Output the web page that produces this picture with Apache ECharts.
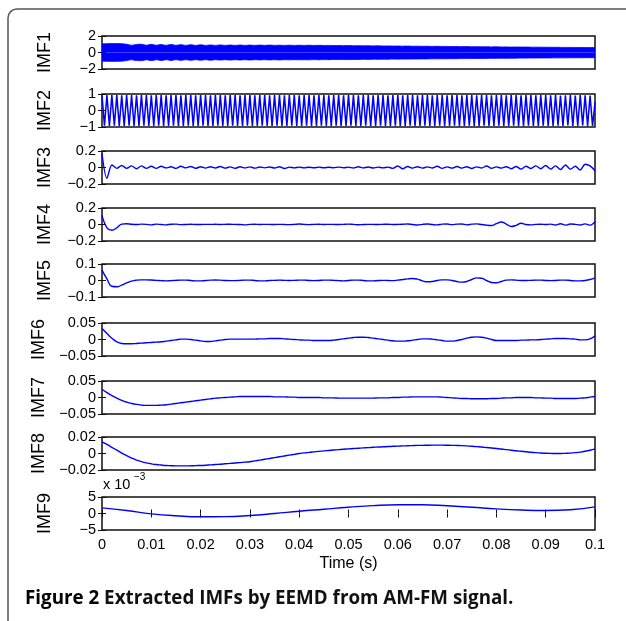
<!DOCTYPE html>
<html><head><meta charset="utf-8">
<script src="https://cdn.jsdelivr.net/npm/echarts@6/dist/echarts.min.js"></script>
<style>html,body{margin:0;padding:0;background:#fff}#c{width:626px;height:621px}</style>
</head><body><div id="c"></div>
<script>
// ---------- data ----------
const imfNames = ['IMF1','IMF2','IMF3','IMF4','IMF5','IMF6','IMF7','IMF8','IMF9'];
const xTickLabels = ['0','0.01','0.02','0.03','0.04','0.05','0.06','0.07','0.08','0.09','0.1'];
const yMin = [-2,-1,-0.2,-0.2,-0.1,-0.05,-0.05,-0.02,-5];
const yMax = [2,1,0.2,0.2,0.1,0.05,0.05,0.02,5];
const yStep = [2,1,0.2,0.2,0.1,0.05,0.05,0.02,5];
const xLabel = 'Time (s)';
const imf9Scale = 'x 10';
const imf9Exp = '\u22123';
const captionBold = 'Figure 2';
const captionRest = ' Extracted IMFs by EEMD from AM-FM signal.';

// sampling steps (s)
const dtImf1 = 0.001, dtImf2 = 0.0005, dtImf = 0.001, dtImf9 = 0.005;

// IMF1 drawn as its envelope band (upper/lower)
const imf1Upper = [
1.05,1.07,1.08,1.08,1.06,1.0,0.88,0.98,1.0,0.88,
0.99,0.88,0.97,0.87,0.96,0.87,0.95,0.86,0.94,0.86,
0.93,0.86,0.92,0.86,0.92,0.86,0.91,0.86,0.91,0.86,
0.9,0.86,0.9,0.86,0.9,0.86,0.89,0.86,0.89,0.86,
0.88,0.86,0.88,0.85,0.87,0.85,0.86,0.84,0.85,0.83,
0.84,0.82,0.83,0.81,0.82,0.8,0.81,0.79,0.8,0.78,
0.79,
0.77,0.78,0.76,0.77,0.75,0.76,0.74,0.75,0.73,0.74,
0.72,0.73,0.71,0.72,0.7,0.71,0.69,0.7,0.68,0.69,
0.67,0.68,0.66,0.67,0.66,0.66,0.65,0.65,0.64,0.64,
0.63,0.63,0.62,0.62,0.62,0.61,0.61,0.6,0.6,0.6];
const imf1Lower = [
-1.05,-1.07,-1.08,-1.07,-1.05,-0.98,-0.88,-0.98,-0.99,-0.88,
-0.98,-0.88,-0.97,-0.87,-0.96,-0.87,-0.95,-0.87,-0.94,-0.87,
-0.93,-0.87,-0.93,-0.87,-0.92,-0.87,-0.92,-0.87,-0.91,-0.87,
-0.91,-0.87,-0.9,-0.87,-0.9,-0.87,-0.9,-0.87,-0.89,-0.87,
-0.89,-0.87,-0.89,-0.86,-0.88,-0.86,-0.87,-0.85,-0.86,-0.85,
-0.86,
-0.84,-0.85,-0.83,-0.84,-0.82,-0.83,-0.81,-0.82,-0.8,-0.81,
-0.8,-0.8,-0.79,-0.79,-0.78,-0.78,-0.77,-0.77,-0.76,-0.76,
-0.75,-0.75,-0.74,-0.74,-0.73,-0.73,-0.72,-0.72,-0.71,-0.71,
-0.7,-0.7,-0.69,-0.69,-0.68,-0.68,-0.67,-0.67,-0.66,-0.66,
-0.66,-0.65,-0.65,-0.65,-0.64,-0.64,-0.64,-0.63,-0.63,-0.63];

// IMF2: extrema of the oscillation
const imf2 = [
0.92,-0.92,0.93,-0.93,0.93,-0.92,0.93,-0.93,0.92,-0.93,
0.93,-0.92,0.93,-0.93,0.92,-0.93,0.93,-0.92,0.93,-0.93,
0.92,-0.93,0.93,-0.92,0.93,-0.93,0.92,-0.93,0.93,-0.92,
0.93,-0.93,0.92,-0.93,0.93,-0.92,0.93,-0.93,0.92,-0.93,
0.93,-0.92,0.93,-0.93,0.92,-0.93,0.93,-0.92,0.93,-0.93,
0.92,-0.93,0.93,-0.92,0.93,-0.93,0.92,-0.93,0.93,-0.92,
0.93,-0.93,0.92,-0.93,0.93,-0.92,0.93,-0.93,0.92,-0.93,
0.93,-0.92,0.93,-0.93,0.92,-0.93,0.93,-0.92,0.93,-0.93,
0.92,-0.93,0.93,-0.92,0.93,-0.93,0.92,-0.93,0.93,-0.92,
0.93,-0.93,0.92,-0.93,0.93,-0.92,0.93,-0.93,0.92,-0.93,
0.93,-0.92,0.93,-0.93,0.92,-0.93,0.93,-0.92,0.93,-0.93,
0.92,-0.93,0.93,-0.92,0.93,-0.93,0.92,-0.93,0.93,-0.92,
0.93,-0.93,0.92,-0.93,0.93,-0.92,0.93,-0.93,0.92,-0.93,
0.93,-0.92,0.93,-0.93,0.92,-0.93,0.93,-0.92,0.93,-0.93,
0.92,-0.93,0.93,-0.92,0.93,-0.93,0.92,-0.93,0.93,-0.92,
0.93,-0.93,0.92,-0.93,0.93,-0.92,0.93,-0.93,0.92,-0.93,
0.93,-0.92,0.93,-0.93,0.92,-0.93,0.93,-0.92,0.93,-0.93,
0.92,-0.93,0.93,-0.92,0.93,-0.93,0.92,-0.93,0.93,-0.92,
0.93,-0.93,0.92,-0.93,0.93,-0.92,0.9,-0.93,0.92,-0.9,
0.93,-0.93,0.9,-0.93,0.93,-0.9,0.92,-0.93,0.9,-0.93,
0.5];

const imf3 = [
0.17,-0.13,0.03,-0.01,0.025,-0.01,0.02,-0.015,0.02,-0.01,
0.015,-0.01,0.015,-0.005,0.01,-0.01,0.015,-0.005,0.012,-0.01,
0.01,-0.008,0.01,-0.006,0.012,-0.008,0.008,-0.01,0.01,-0.005,
0.008,-0.008,0.006,-0.004,0.006,-0.006,0.01,-0.012,0.005,-0.004,
0.004,-0.004,0.003,-0.003,0.004,-0.003,0.003,-0.003,0.005,-0.003,
0.004,-0.006,0.01,-0.005,0.006,-0.006,0.004,-0.004,0.005,-0.01,
0.018,-0.015,0.012,-0.008,0.01,-0.008,0.008,-0.006,0.015,-0.01,
0.008,-0.008,0.012,-0.008,0.01,-0.012,0.008,-0.006,0.018,-0.01,
0.008,-0.008,0.01,-0.015,0.012,-0.02,0.015,-0.012,0.02,-0.015,
0.025,-0.02,0.02,-0.025,0.03,-0.02,0.015,-0.03,0.04,0.02,
-0.04];

const imf4 = [
0.11,-0.04,-0.07,-0.04,0.005,0.01,0.003,0.0,0.004,0.002,
-0.004,0.004,0.0,-0.004,0.003,0.004,-0.002,0.0,0.003,0.0,
0.0,0.002,0.001,0.003,0.0,0.002,0.003,0.001,0.0,-0.004,
0.002,0.003,0.0,0.002,0.001,0.0,0.002,0.0,-0.002,0.002,
0.006,0.002,-0.002,0.002,0.003,0.0,0.002,0.001,0.0,0.002,
0.004,0.001,-0.003,0.0,0.002,0.001,0.0,0.002,0.003,0.0,
0.001,0.003,0.006,0.0,-0.006,0.002,0.006,0.0,-0.005,0.004,
0.006,-0.002,0.004,0.006,-0.004,0.004,0.008,0.0,-0.008,-0.012,
0.01,0.03,0.005,-0.025,-0.01,0.015,0.0,-0.004,0.002,0.003,
0.0,0.004,-0.006,0.01,-0.008,0.006,0.002,-0.006,0.008,-0.008,
0.035];

const imf5 = [
0.063,0.01,-0.035,-0.038,-0.028,-0.015,-0.004,0.002,0.004,0.004,
0.003,0.001,-0.001,-0.002,-0.001,0.001,0.002,0.002,0.0,-0.002,
-0.002,0.0,0.002,0.003,0.002,0.0,-0.001,-0.001,0.001,0.002,
0.002,0.0,-0.002,-0.002,0.0,0.001,0.002,0.001,0.0,0.001,
0.002,0.002,0.0,-0.001,0.0,0.002,0.002,0.001,-0.001,-0.002,
0.0,0.002,0.002,0.0,-0.002,-0.002,0.0,0.001,0.0,-0.001,
0.002,0.006,0.01,0.012,0.008,-0.002,-0.008,-0.006,0.0,0.004,
0.004,0.0,-0.006,-0.01,-0.006,0.006,0.016,0.014,0.0,-0.012,
-0.014,-0.006,0.002,0.004,0.002,0.0,0.0,0.001,0.002,0.002,
0.0,-0.001,0.0,0.002,0.002,0.0,-0.002,-0.002,0.0,0.006,
0.016];

const imf6 = [
0.033,0.018,0.004,-0.007,-0.012,-0.013,-0.013,-0.012,-0.011,-0.01,
-0.009,-0.008,-0.007,-0.005,-0.003,-0.001,0.001,0.001,0.0,-0.002,
-0.004,-0.006,-0.006,-0.004,-0.002,0.0,0.001,0.001,0.001,0.001,
0.001,0.001,0.002,0.002,0.003,0.003,0.003,0.002,0.001,0.0,
-0.001,-0.002,-0.002,-0.003,-0.003,-0.003,-0.003,-0.002,0.0,0.002,
0.004,0.006,0.007,0.007,0.006,0.004,0.002,0.0,-0.002,-0.004,
-0.005,-0.005,-0.004,-0.002,0.0,0.002,0.002,0.001,-0.001,-0.003,
-0.005,-0.005,-0.003,0.0,0.004,0.007,0.008,0.007,0.004,0.0,
-0.003,-0.003,-0.003,-0.003,-0.003,-0.002,-0.002,-0.001,-0.001,0.0,
0.001,0.002,0.003,0.003,0.003,0.002,0.001,-0.001,-0.001,0.002,
0.011];

const imf7 = [
0.025,0.015,0.006,-0.002,-0.009,-0.014,-0.018,-0.021,-0.023,-0.024,
-0.024,-0.024,-0.023,-0.022,-0.02,-0.018,-0.016,-0.014,-0.012,-0.01,
-0.008,-0.006,-0.004,-0.002,-0.001,0.0,0.001,0.002,0.003,0.003,
0.003,0.003,0.003,0.003,0.003,0.002,0.002,0.002,0.001,0.001,
0.0,0.0,0.0,0.0,0.0,-0.001,-0.001,-0.001,-0.002,-0.002,
-0.002,-0.002,-0.002,-0.002,-0.002,-0.002,-0.001,-0.001,-0.001,0.0,
0.0,0.001,0.001,0.002,0.002,0.002,0.002,0.002,0.002,0.001,
0.0,-0.001,-0.002,-0.003,-0.003,-0.004,-0.004,-0.004,-0.004,-0.003,
-0.003,-0.002,-0.001,-0.001,0.0,0.0,0.0,0.0,-0.001,-0.001,
-0.002,-0.002,-0.003,-0.003,-0.003,-0.003,-0.003,-0.002,-0.001,0.001,
0.003];

const imf8 = [
0.014,0.011,0.0075,0.004,0.0005,-0.0025,-0.0055,-0.008,-0.0098,-0.0113,
-0.0125,-0.0134,-0.014,-0.0145,-0.0148,-0.015,-0.015,-0.015,-0.0149,-0.0147,
-0.0145,-0.0142,-0.0138,-0.0134,-0.013,-0.0125,-0.012,-0.0115,-0.011,-0.0105,
-0.01,-0.009,-0.008,-0.007,-0.006,-0.005,-0.004,-0.003,-0.002,-0.001,
0.0,0.0007,0.0014,0.002,0.0026,0.0032,0.0037,0.0042,0.0047,0.0052,
0.0056,0.006,0.0064,0.0068,0.0071,0.0075,0.0078,0.0081,0.0084,0.0087,
0.009,0.0092,0.0094,0.0096,0.0098,0.0099,0.01,0.0101,0.0101,0.0101,
0.01,0.0099,0.0097,0.0095,0.0092,0.0088,0.0083,0.0078,0.0072,0.0066,
0.006,0.0054,0.0047,0.004,0.0033,0.0027,0.0021,0.0015,0.001,0.0006,
0.0003,0.0001,0.0,0.0,0.0002,0.0005,0.001,0.0017,0.0027,0.004,
0.0056];

// IMF9 in units of 10^-3
const imf9 = [1.7,0.9,-0.1,-0.7,-1.0,-0.95,-0.6,0.0,0.7,1.3,
1.9,2.4,2.65,2.65,2.35,1.9,1.4,1.05,0.9,1.15,2.0];

// ---------- layout / style ----------
const BLUE = '#0000ff';
const FONT = '"Liberation Sans", Arial, Helvetica, sans-serif';
const CAPFONT = '"Open Sans", "Noto Sans", sans-serif';
const gridTop = [36, 94, 151, 208, 264, 323, 381, 437, 497];
const gridH = 33;
const gridLeft = 102, gridW = 493;

function pairs(arr, dt){ return arr.map((v,i)=>[+(i*dt).toFixed(5), v]); }
function fmtY(v){ const s = String(+v.toFixed(4)); return s.replace('-', '\u2212'); }

const grids=[], xAxes=[], yAxes=[], series=[];
for (let i=0;i<9;i++){
  const last = i===8;
  grids.push({left:gridLeft, width:gridW, top:gridTop[i], height:gridH,
    show:true, borderColor:'#111', borderWidth:1.5, backgroundColor:'#fff'});
  xAxes.push({type:'value', gridIndex:i, min:0, max:0.1, interval:0.01, position:'bottom',
    axisLine:{show:false}, splitLine:{show:false},
    axisTick:{show:last, inside:true, length:4, lineStyle:{color:'#111', width:1}},
    axisLabel:{show:last, color:'#000', fontSize:14.5, fontFamily:FONT, margin:7,
      formatter:v=>xTickLabels[Math.round(v*100)]},
    name:last?xLabel:'', nameLocation:'middle', nameGap:26,
    nameTextStyle:{color:'#000', fontSize:16, fontFamily:FONT}});
  xAxes.push({type:'value', gridIndex:i, min:0, max:0.1, interval:0.01, position:'top',
    axisLine:{show:false}, splitLine:{show:false}, axisLabel:{show:false},
    axisTick:{show:last, inside:true, length:4, lineStyle:{color:'#111', width:1}}});
  yAxes.push({type:'value', gridIndex:i, min:yMin[i], max:yMax[i], interval:yStep[i], position:'left',
    axisLine:{show:false}, splitLine:{show:false},
    axisTick:{show:true, inside:true, length:4, lineStyle:{color:'#111', width:1}},
    axisLabel:{color:'#000', fontSize:14.5, fontFamily:FONT, margin:6, formatter:fmtY},
    name:imfNames[i], nameLocation:'middle', nameRotate:90, nameGap:48,
    nameTextStyle:{color:'#000', fontSize:18, fontFamily:FONT}});
  yAxes.push({type:'value', gridIndex:i, min:yMin[i], max:yMax[i], interval:yStep[i], position:'right',
    axisLine:{show:false}, splitLine:{show:false}, axisLabel:{show:false},
    axisTick:{show:true, inside:true, length:4, lineStyle:{color:'#111', width:1}}});
}

function lineSeries(idx, data, width, smooth){
  return {type:'line', xAxisIndex:2*idx, yAxisIndex:2*idx, data, showSymbol:false, symbol:'none',
    smooth, lineStyle:{color:BLUE, width}, silent:true, clip:true, z:3};
}
// IMF1 band
series.push(Object.assign(lineSeries(0, pairs(imf1Upper, dtImf1), 0.8, 0.4), {areaStyle:{color:BLUE, opacity:1, origin:'auto'}}));
series.push(Object.assign(lineSeries(0, pairs(imf1Lower, dtImf1), 0.8, 0.4), {areaStyle:{color:BLUE, opacity:1, origin:'auto'}}));
series.push(lineSeries(1, pairs(imf2, dtImf2), 1.5, false));
series.push(lineSeries(2, pairs(imf3, dtImf), 1.4, 0.3));
series.push(lineSeries(3, pairs(imf4, dtImf), 1.4, 0.4));
series.push(lineSeries(4, pairs(imf5, dtImf), 1.4, 0.5));
series.push(lineSeries(5, pairs(imf6, dtImf), 1.4, 0.5));
series.push(lineSeries(6, pairs(imf7, dtImf), 1.4, 0.5));
series.push(lineSeries(7, pairs(imf8, dtImf), 1.4, 0.5));
series.push(lineSeries(8, pairs(imf9, dtImf9), 1.4, 0.5));

const chart = echarts.init(document.getElementById('c'), null, {renderer:'canvas'});
chart.setOption({
  animation:false,
  backgroundColor:'#fff',
  grid:grids, xAxis:xAxes, yAxis:yAxes, series,
  graphic:[
    {type:'rect', shape:{x:8, y:9, width:700, height:700, r:9}, z:-10,
      style:{fill:'none', stroke:'#555', lineWidth:1.5}},
    {type:'text', left:103, top:477, style:{text:imf9Scale, fontSize:14.5, fontFamily:FONT, fill:'#000'}},
    {type:'text', left:134, top:472, style:{text:imf9Exp, fontSize:10, fontFamily:FONT, fill:'#000'}},
    {type:'text', left:25, top:589, style:{
      text:'{b|'+captionBold+'}{n|'+captionRest+'}',
      rich:{b:{fontSize:18.8, fontWeight:'bold', fontFamily:CAPFONT, fill:'#000'},
            n:{fontSize:18.8, fontWeight:'bold', fontFamily:CAPFONT, fill:'#111'}}}}
  ]
});
</script></body></html>
